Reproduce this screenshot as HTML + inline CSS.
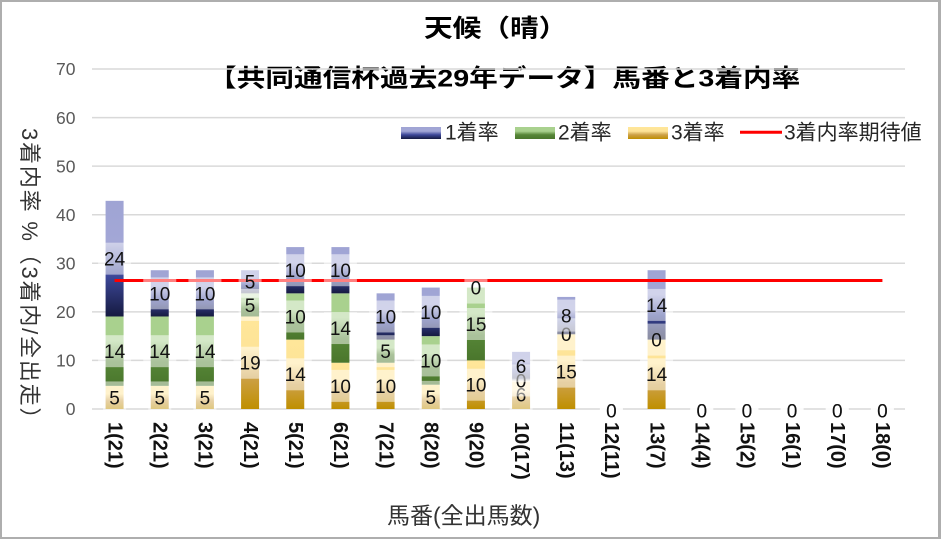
<!DOCTYPE html>
<html><head><meta charset="utf-8"><style>html,body{margin:0;padding:0;background:#fff}svg{display:block}</style></head>
<body>
<svg width="941" height="539" xmlns="http://www.w3.org/2000/svg" font-family="'Liberation Sans','Noto Sans CJK JP',sans-serif">
<defs>
<linearGradient id="g1" x1="0" y1="0" x2="0" y2="1"><stop offset="0" stop-color="#9fa4d4"/><stop offset="0.35" stop-color="#a3a7d6"/><stop offset="0.65" stop-color="#3d4899"/><stop offset="1" stop-color="#151a40"/></linearGradient>
<linearGradient id="g2" x1="0" y1="0" x2="0" y2="1"><stop offset="0" stop-color="#a9d18e"/><stop offset="0.35" stop-color="#a9d18e"/><stop offset="0.65" stop-color="#568637"/><stop offset="1" stop-color="#4a762c"/></linearGradient>
<linearGradient id="g3" x1="0" y1="0" x2="0" y2="1"><stop offset="0" stop-color="#ffe699"/><stop offset="0.35" stop-color="#fee498"/><stop offset="0.65" stop-color="#cda148"/><stop offset="1" stop-color="#bf8f00"/></linearGradient>
</defs>
<rect width="941" height="539" fill="#aeaeae"/>
<rect x="2" y="2" width="936" height="535" fill="#fff"/>

<text transform="translate(424,36.6) scale(1.17,1)" font-size="24.5" font-weight="bold" fill="#000">天候（晴）</text>
<text transform="translate(208,86.6) scale(1.17,1)" font-size="24.5" font-weight="bold" fill="#000">【共同通信杯過去29年データ】馬番と3着内率</text>

<path d="M92 409H905M92 360.43H905M92 311.86H905M92 263.29H905M92 214.71H905M92 166.14H905M92 117.57H905M92 69H905" stroke="#d9d9d9" stroke-width="1.5" fill="none"/>

<g font-size="17.5" fill="#595959" text-anchor="end">
<text x="75.5" y="415.2">0</text>
<text x="75.5" y="366.6">10</text>
<text x="75.5" y="318.1">20</text>
<text x="75.5" y="269.5">30</text>
<text x="75.5" y="220.9">40</text>
<text x="75.5" y="172.3">50</text>
<text x="75.5" y="123.8">60</text>
<text x="75.5" y="75.2">70</text>
</g>

<g fill="url(#g3)">
<rect x="105.58" y="385.87" width="18" height="23.13"/>
<rect x="150.75" y="385.87" width="18" height="23.13"/>
<rect x="195.92" y="385.87" width="18" height="23.13"/>
<rect x="241.08" y="316.48" width="18" height="92.52"/>
<rect x="286.25" y="339.61" width="18" height="69.39"/>
<rect x="331.42" y="362.74" width="18" height="46.26"/>
<rect x="376.58" y="362.74" width="18" height="46.26"/>
<rect x="421.75" y="384.71" width="18" height="24.29"/>
<rect x="466.92" y="360.43" width="18" height="48.57"/>
<rect x="512.08" y="380.43" width="18" height="28.57"/>
<rect x="557.25" y="334.28" width="18" height="74.72"/>
<rect x="647.58" y="339.61" width="18" height="69.39"/>
</g>
<g fill="url(#g2)">
<rect x="105.58" y="316.48" width="18" height="69.39"/>
<rect x="150.75" y="316.48" width="18" height="69.39"/>
<rect x="195.92" y="316.48" width="18" height="69.39"/>
<rect x="241.08" y="293.35" width="18" height="23.13"/>
<rect x="286.25" y="293.35" width="18" height="46.26"/>
<rect x="331.42" y="293.35" width="18" height="69.39"/>
<rect x="376.58" y="339.61" width="18" height="23.13"/>
<rect x="421.75" y="336.14" width="18" height="48.57"/>
<rect x="466.92" y="287.57" width="18" height="72.86"/>
</g>
<g fill="url(#g1)">
<rect x="105.58" y="200.84" width="18" height="115.64"/>
<rect x="150.75" y="270.22" width="18" height="46.26"/>
<rect x="195.92" y="270.22" width="18" height="46.26"/>
<rect x="241.08" y="270.22" width="18" height="23.13"/>
<rect x="286.25" y="247.09" width="18" height="46.26"/>
<rect x="331.42" y="247.09" width="18" height="46.26"/>
<rect x="376.58" y="293.35" width="18" height="46.26"/>
<rect x="421.75" y="287.57" width="18" height="48.57"/>
<rect x="512.08" y="351.86" width="18" height="28.57"/>
<rect x="557.25" y="296.92" width="18" height="37.36"/>
<rect x="647.58" y="270.22" width="18" height="69.39"/>
</g>

<line x1="114.58" y1="280.5" x2="882.42" y2="280.5" stroke="#ff0000" stroke-width="3"/>

<g font-size="19" fill="#111" text-anchor="middle">
<rect x="103.08" y="381.44" width="23" height="32" fill="#fff" fill-opacity=".5"/><text x="114.58" y="404.3">5</text>
<rect x="148.25" y="381.44" width="23" height="32" fill="#fff" fill-opacity=".5"/><text x="159.75" y="404.3">5</text>
<rect x="193.42" y="381.44" width="23" height="32" fill="#fff" fill-opacity=".5"/><text x="204.92" y="404.3">5</text>
<rect x="233.58" y="346.74" width="33" height="32" fill="#fff" fill-opacity=".5"/><text x="250.08" y="369.6">19</text>
<rect x="278.75" y="358.31" width="33" height="32" fill="#fff" fill-opacity=".5"/><text x="295.25" y="381.2">14</text>
<rect x="323.92" y="369.87" width="33" height="32" fill="#fff" fill-opacity=".5"/><text x="340.42" y="392.8">10</text>
<rect x="369.08" y="369.87" width="33" height="32" fill="#fff" fill-opacity=".5"/><text x="385.58" y="392.8">10</text>
<rect x="419.25" y="380.86" width="23" height="32" fill="#fff" fill-opacity=".5"/><text x="430.75" y="403.8">5</text>
<rect x="459.42" y="368.71" width="33" height="32" fill="#fff" fill-opacity=".5"/><text x="475.92" y="391.6">10</text>
<rect x="509.58" y="378.71" width="23" height="32" fill="#fff" fill-opacity=".5"/><text x="521.08" y="401.6">6</text>
<rect x="549.75" y="355.64" width="33" height="32" fill="#fff" fill-opacity=".5"/><text x="566.25" y="378.5">15</text>
<rect x="599.92" y="393" width="23" height="32" fill="#fff" fill-opacity=".5"/><text x="611.42" y="417.4">0</text>
<rect x="640.08" y="358.31" width="33" height="32" fill="#fff" fill-opacity=".5"/><text x="656.58" y="381.2">14</text>
<rect x="690.25" y="393" width="23" height="32" fill="#fff" fill-opacity=".5"/><text x="701.75" y="417.4">0</text>
<rect x="735.42" y="393" width="23" height="32" fill="#fff" fill-opacity=".5"/><text x="746.92" y="417.4">0</text>
<rect x="780.58" y="393" width="23" height="32" fill="#fff" fill-opacity=".5"/><text x="792.08" y="417.4">0</text>
<rect x="825.75" y="393" width="23" height="32" fill="#fff" fill-opacity=".5"/><text x="837.25" y="417.4">0</text>
<rect x="870.92" y="393" width="23" height="32" fill="#fff" fill-opacity=".5"/><text x="882.42" y="417.4">0</text>
<rect x="98.08" y="335.18" width="33" height="32" fill="#fff" fill-opacity=".5"/><text x="114.58" y="358.1">14</text>
<rect x="143.25" y="335.18" width="33" height="32" fill="#fff" fill-opacity=".5"/><text x="159.75" y="358.1">14</text>
<rect x="188.42" y="335.18" width="33" height="32" fill="#fff" fill-opacity=".5"/><text x="204.92" y="358.1">14</text>
<rect x="238.58" y="288.92" width="23" height="32" fill="#fff" fill-opacity=".5"/><text x="250.08" y="311.8">5</text>
<rect x="278.75" y="300.48" width="33" height="32" fill="#fff" fill-opacity=".5"/><text x="295.25" y="323.4">10</text>
<rect x="323.92" y="312.05" width="33" height="32" fill="#fff" fill-opacity=".5"/><text x="340.42" y="335">14</text>
<rect x="374.08" y="335.18" width="23" height="32" fill="#fff" fill-opacity=".5"/><text x="385.58" y="358.1">5</text>
<rect x="414.25" y="344.43" width="33" height="32" fill="#fff" fill-opacity=".5"/><text x="430.75" y="367.3">10</text>
<rect x="459.42" y="308" width="33" height="32" fill="#fff" fill-opacity=".5"/><text x="475.92" y="330.9">15</text>
<rect x="509.58" y="364.43" width="23" height="32" fill="#fff" fill-opacity=".5"/><text x="521.08" y="387.3">0</text>
<rect x="554.75" y="318.28" width="23" height="32" fill="#fff" fill-opacity=".5"/><text x="566.25" y="341.2">0</text>
<rect x="599.92" y="393" width="23" height="32" fill="#fff" fill-opacity=".5"/><text x="611.42" y="417.4">0</text>
<rect x="645.08" y="323.61" width="23" height="32" fill="#fff" fill-opacity=".5"/><text x="656.58" y="346.5">0</text>
<rect x="690.25" y="393" width="23" height="32" fill="#fff" fill-opacity=".5"/><text x="701.75" y="417.4">0</text>
<rect x="735.42" y="393" width="23" height="32" fill="#fff" fill-opacity=".5"/><text x="746.92" y="417.4">0</text>
<rect x="780.58" y="393" width="23" height="32" fill="#fff" fill-opacity=".5"/><text x="792.08" y="417.4">0</text>
<rect x="825.75" y="393" width="23" height="32" fill="#fff" fill-opacity=".5"/><text x="837.25" y="417.4">0</text>
<rect x="870.92" y="393" width="23" height="32" fill="#fff" fill-opacity=".5"/><text x="882.42" y="417.4">0</text>
<rect x="98.08" y="242.66" width="33" height="32" fill="#fff" fill-opacity=".5"/><text x="114.58" y="265.6">24</text>
<rect x="143.25" y="277.35" width="33" height="32" fill="#fff" fill-opacity=".5"/><text x="159.75" y="300.3">10</text>
<rect x="188.42" y="277.35" width="33" height="32" fill="#fff" fill-opacity=".5"/><text x="204.92" y="300.3">10</text>
<rect x="238.58" y="265.79" width="23" height="32" fill="#fff" fill-opacity=".5"/><text x="250.08" y="288.7">5</text>
<rect x="278.75" y="254.22" width="33" height="32" fill="#fff" fill-opacity=".5"/><text x="295.25" y="277.1">10</text>
<rect x="323.92" y="254.22" width="33" height="32" fill="#fff" fill-opacity=".5"/><text x="340.42" y="277.1">10</text>
<rect x="369.08" y="300.48" width="33" height="32" fill="#fff" fill-opacity=".5"/><text x="385.58" y="323.4">10</text>
<rect x="414.25" y="295.86" width="33" height="32" fill="#fff" fill-opacity=".5"/><text x="430.75" y="318.8">10</text>
<rect x="464.42" y="271.57" width="23" height="32" fill="#fff" fill-opacity=".5"/><text x="475.92" y="294.5">0</text>
<rect x="509.58" y="350.14" width="23" height="32" fill="#fff" fill-opacity=".5"/><text x="521.08" y="373">6</text>
<rect x="554.75" y="299.6" width="23" height="32" fill="#fff" fill-opacity=".5"/><text x="566.25" y="322.5">8</text>
<rect x="599.92" y="393" width="23" height="32" fill="#fff" fill-opacity=".5"/><text x="611.42" y="417.4">0</text>
<rect x="640.08" y="288.92" width="33" height="32" fill="#fff" fill-opacity=".5"/><text x="656.58" y="311.8">14</text>
<rect x="690.25" y="393" width="23" height="32" fill="#fff" fill-opacity=".5"/><text x="701.75" y="417.4">0</text>
<rect x="735.42" y="393" width="23" height="32" fill="#fff" fill-opacity=".5"/><text x="746.92" y="417.4">0</text>
<rect x="780.58" y="393" width="23" height="32" fill="#fff" fill-opacity=".5"/><text x="792.08" y="417.4">0</text>
<rect x="825.75" y="393" width="23" height="32" fill="#fff" fill-opacity=".5"/><text x="837.25" y="417.4">0</text>
<rect x="870.92" y="393" width="23" height="32" fill="#fff" fill-opacity=".5"/><text x="882.42" y="417.4">0</text>
</g>

<g font-size="20" font-weight="bold" fill="#111">
<text transform="translate(115.6,422) rotate(90)" y="7.2">1(21)</text>
<text transform="translate(160.8,422) rotate(90)" y="7.2">2(21)</text>
<text transform="translate(205.9,422) rotate(90)" y="7.2">3(21)</text>
<text transform="translate(251.1,422) rotate(90)" y="7.2">4(21)</text>
<text transform="translate(296.3,422) rotate(90)" y="7.2">5(21)</text>
<text transform="translate(341.4,422) rotate(90)" y="7.2">6(21)</text>
<text transform="translate(386.6,422) rotate(90)" y="7.2">7(21)</text>
<text transform="translate(431.8,422) rotate(90)" y="7.2">8(20)</text>
<text transform="translate(476.9,422) rotate(90)" y="7.2">9(20)</text>
<text transform="translate(522.1,422) rotate(90)" y="7.2">10(17)</text>
<text transform="translate(567.3,422) rotate(90)" y="7.2">11(13)</text>
<text transform="translate(612.4,422) rotate(90)" y="7.2">12(11)</text>
<text transform="translate(657.6,422) rotate(90)" y="7.2">13(7)</text>
<text transform="translate(702.8,422) rotate(90)" y="7.2">14(4)</text>
<text transform="translate(747.9,422) rotate(90)" y="7.2">15(2)</text>
<text transform="translate(793.1,422) rotate(90)" y="7.2">16(1)</text>
<text transform="translate(838.3,422) rotate(90)" y="7.2">17(0)</text>
<text transform="translate(883.4,422) rotate(90)" y="7.2">18(0)</text>
</g>

<text transform="translate(22,128) rotate(90)" font-size="22" letter-spacing="1.8" fill="#333">3着内率 %（3着内/全出走）</text>
<text x="387" y="523.4" font-size="23" fill="#333">馬番(全出馬数)</text>

<rect x="401" y="127" width="40" height="12" fill="url(#g1)"/>
<text x="445" y="139.5" font-size="21" fill="#262626">1着率</text>
<rect x="515" y="127" width="40" height="12" fill="url(#g2)"/>
<text x="558" y="139.5" font-size="21" fill="#262626">2着率</text>
<rect x="628" y="127" width="40" height="12" fill="url(#g3)"/>
<text x="671" y="139.5" font-size="21" fill="#262626">3着率</text>
<line x1="740" y1="132.3" x2="782" y2="132.3" stroke="#ff0000" stroke-width="3"/>
<text x="784" y="139.5" font-size="21" fill="#262626">3着内率期待値</text>
</svg>
</body></html>
